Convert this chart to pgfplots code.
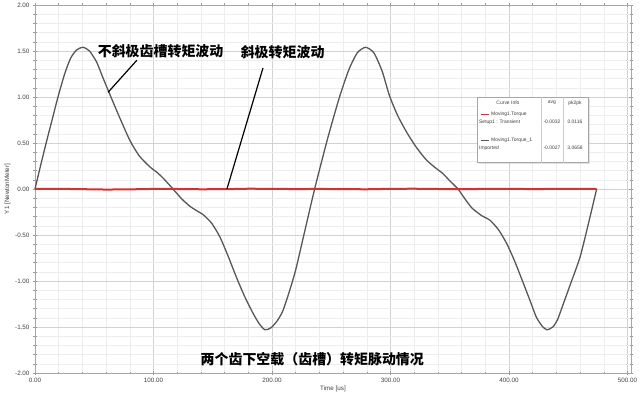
\documentclass[border=0pt]{standalone}
\usepackage{pgfplots}
\pgfplotsset{compat=1.18}
\usepackage{fontspec}
\setmainfont{Liberation Sans}
\newfontfamily\cjk{Noto Sans CJK SC}
\usetikzlibrary{shadows}
\definecolor{torqred}{RGB}{214,48,48}
\definecolor{torqgray}{RGB}{90,86,88}
\begin{document}
\begin{tikzpicture}
\begin{axis}[
  scale only axis,
  width=596bp, height=368bp,
  xmin=0, xmax=503, ymin=-2, ymax=2,
  xtick={0,100,...,500}, ytick={-2,-1.5,...,2},
  minor x tick num=4, minor y tick num=4,
  grid=both,
  major grid style={gray!35, line width=0.5bp},
  minor grid style={gray!14, line width=0.4bp},
  axis line style={gray!70, line width=0.8bp},
  tick style={gray!80, line width=0.5bp},
  tick align=center,
  major tick length=4bp, minor tick length=3bp,
  ticklabel style={font=\fontsize{6.3}{7}\selectfont, text=black!75},
  /pgf/number format/assume math mode=true,
  /pgf/number format/fixed, /pgf/number format/fixed zerofill,
  /pgf/number format/precision=2,
  xlabel={Time [us]}, ylabel={Y1 [NewtonMeter]},
  label style={font=\fontsize{6.3}{7}\selectfont, text=black!75},
  xlabel style={yshift=4bp},
  ylabel style={yshift=-2bp},
  clip=false,
]
\addplot[torqgray, line width=1.3bp, smooth, tension=0.4] coordinates {
(0,0) (5,0.27) (10,0.53) (15,0.78) (19.4,1.0) (25,1.25) (30,1.42) (35,1.51)
(40.5,1.54) (46,1.50) (52,1.38) (57,1.22) (61.5,1.08) (70,0.82) (80,0.53)
(88,0.36) (97,0.24) (103,0.18) (108,0.12) (116.5,0) (124,-0.11) (131,-0.19)
(137,-0.24) (142,-0.28) (149,-0.37) (156,-0.52) (163,-0.73) (170,-0.96)
(177,-1.17) (184,-1.35) (189,-1.46) (194,-1.53) (199,-1.51) (204,-1.44)
(209,-1.33) (215,-1.10) (220,-0.88) (226,-0.55) (236,0) (247,0.55) (257,1.0)
(265,1.3) (272,1.48) (279,1.54) (286,1.48) (293,1.28) (299,1.02) (306,0.80)
(314,0.61) (322,0.45) (330,0.32) (337,0.24) (344,0.17) (350,0.09) (357,0)
(363,-0.11) (369,-0.21) (377,-0.29) (384,-0.34) (391,-0.44) (398,-0.59)
(405,-0.79) (412,-1.02) (418,-1.22) (423,-1.39) (428,-1.49) (432,-1.53)
(437,-1.50) (441,-1.42) (445,-1.28) (452,-1.03) (460,-0.74) (467,-0.38) (474,0)
};
\addplot[torqred, line width=2bp] coordinates {
(0,0) (20,0.002) (40,-0.002) (60,-0.006) (80,-0.004) (100,0.001) (120,0.000)
(140,-0.003) (160,-0.002) (180,0.003) (200,0.002) (220,-0.001) (240,0.001)
(260,-0.002) (280,-0.003) (300,0.002) (320,0.003) (340,0.000) (360,-0.002)
(380,0.001) (400,0.002) (420,-0.001) (440,0.001) (460,0.000) (474,0)
};
% annotations
\node[font=\cjk\bfseries\fontsize{14}{16}\selectfont] at (axis cs:106,1.50) {不斜极齿槽转矩波动};
\node[font=\cjk\bfseries\fontsize{14}{16}\selectfont] at (axis cs:209,1.49) {斜极转矩波动};
\draw[black, line width=1.2bp] (axis cs:86,1.40) -- (axis cs:61.6,1.05);
\draw[black, line width=1.2bp] (axis cs:192.4,1.315) -- (axis cs:162,0);
\node[font=\cjk\bfseries\fontsize{14}{16}\selectfont] at (axis cs:234,-1.85) {两个齿下空载（齿槽）转矩脉动情况};
% info box
\node[draw=gray!70, line width=0.8bp, fill=white, minimum width=111bp, minimum height=65bp,
      anchor=north west, inner sep=0pt,
      drop shadow={shadow xshift=2bp, shadow yshift=-2bp, fill=gray!45}] (lg) at (axis cs:373,1.0) {};
\begin{scope}[every node/.style={font=\fontsize{5}{5.5}\selectfont, text=black!75, inner sep=0pt}]
\draw[gray!40, line width=0.4bp] ([xshift=64bp]lg.north west) -- ([xshift=64bp]lg.south west);
\draw[gray!40, line width=0.4bp] ([xshift=86bp]lg.north west) -- ([xshift=86bp]lg.south west);
\node at ([xshift=31bp, yshift=-6bp]lg.north west) {Curve Info};
\node at ([xshift=75bp, yshift=-6bp]lg.north west) {avg};
\node at ([xshift=98bp, yshift=-6bp]lg.north west) {pk2pk};
\draw[torqred, line width=0.9bp] ([xshift=4bp, yshift=-17bp]lg.north west) -- ([xshift=12bp, yshift=-17bp]lg.north west);
\node[anchor=west] at ([xshift=14bp, yshift=-17bp]lg.north west) {Moving1.Torque};
\node[anchor=west] at ([xshift=2bp, yshift=-25bp]lg.north west) {Setup1 : Transient};
\node at ([xshift=75bp, yshift=-25bp]lg.north west) {-0.0032};
\node at ([xshift=98bp, yshift=-25bp]lg.north west) {0.0116};
\draw[torqgray, line width=0.9bp] ([xshift=4bp, yshift=-43bp]lg.north west) -- ([xshift=12bp, yshift=-43bp]lg.north west);
\node[anchor=west] at ([xshift=14bp, yshift=-43bp]lg.north west) {Moving1.Torque\_1};
\node[anchor=west] at ([xshift=2bp, yshift=-51bp]lg.north west) {Imported};
\node at ([xshift=75bp, yshift=-51bp]lg.north west) {-0.0027};
\node at ([xshift=98bp, yshift=-51bp]lg.north west) {3.0658};
\end{scope}
\end{axis}
\pgfresetboundingbox
\path (-35bp,-29bp) rectangle (606bp,373bp);
\end{tikzpicture}
\end{document}
